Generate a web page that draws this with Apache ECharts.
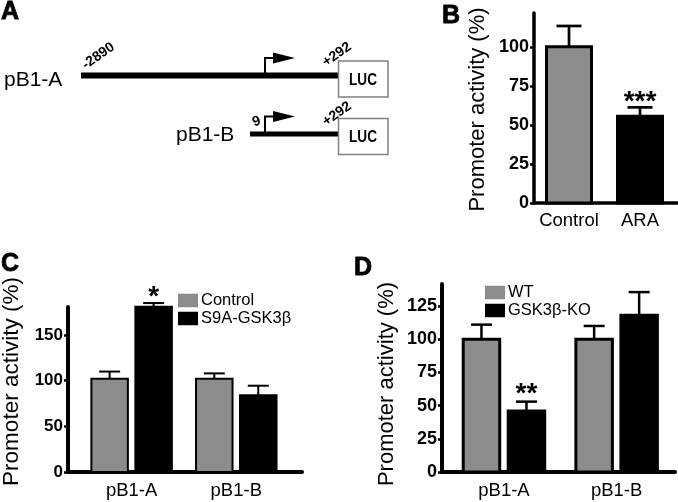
<!DOCTYPE html>
<html>
<head>
<meta charset="utf-8">
<script src="https://cdn.jsdelivr.net/npm/echarts@6/dist/echarts.min.js"></script>
<style>
html,body{margin:0;padding:0;background:#fff;}
#chart{width:678px;height:502px;}
</style>
</head>
<body>
<div id="chart"></div>
<script>
// ---------- DATA ----------
// Panel B
const panelBCategories = ['Control', 'ARA'];
const panelBValues = [100, 55.5];
const panelBErrors = [13.3, 5.7];
const panelBSignificance = ['', '***'];
const panelBTicks = [0, 25, 50, 75, 100];

// Panel C
const panelCCategories = ['pB1-A', 'pB1-B'];
const panelCSeriesNames = ['Control', 'S9A-GSK3β'];
const panelCControl = [102, 102];
const panelCControlErr = [8, 6];
const panelCS9A = [181, 84];
const panelCS9AErr = [4, 10.5];
const panelCSignificance = ['*', ''];
const panelCTicks = [0, 50, 100, 150];

// Panel D
const panelDCategories = ['pB1-A', 'pB1-B'];
const panelDSeriesNames = ['WT', 'GSK3β-KO'];
const panelDWT = [100, 100];
const panelDWTErr = [11, 10];
const panelDKO = [46, 118];
const panelDKOErr = [7, 17.5];
const panelDSignificance = ['**', ''];
const panelDTicks = [0, 25, 50, 75, 100, 125];

// Panel A (schematic) labels
const constructNames = ['pB1-A', 'pB1-B'];
const constructStarts = ['-2890', '9'];
const constructEnd = '+292';
const reporterName = 'LUC';
const yTitle = 'Promoter activity (%)';

// ---------- STYLE ----------
const GRAY = '#8c8c8c';
const BLACK = '#000000';
const FONT = '"Liberation Sans", Arial, Helvetica, sans-serif';
const panelBFills = [GRAY, BLACK];

function toRows(vals, errs) { return vals.map((v, i) => [i, v, errs[i]]); }

function barRenderer(o) {
  return function (params, api) {
    const i = api.value(0), v = api.value(1), e = api.value(2);
    const base = api.coord([i, 0]);
    const top = api.coord([i, v]);
    const et = api.coord([i, v + e]);
    const cx = base[0] + o.offset;
    const w = o.width - o.lineWidth;
    const fill = o.fills ? o.fills[params.dataIndex] : o.fill;
    const children = [
      { type: 'line', shape: { x1: cx, y1: top[1], x2: cx, y2: et[1] },
        style: { stroke: BLACK, lineWidth: o.errWidth } },
      { type: 'line', shape: { x1: cx - o.cap / 2, y1: et[1], x2: cx + o.cap / 2, y2: et[1] },
        style: { stroke: BLACK, lineWidth: o.errWidth } },
      { type: 'rect', shape: { x: cx - w / 2, y: top[1], width: w, height: base[1] - top[1] },
        style: { fill: fill, stroke: BLACK, lineWidth: o.lineWidth } }
    ];
    const s = o.sig ? o.sig[params.dataIndex] : '';
    if (s) {
      children.push({ type: 'text', x: cx, y: et[1] - o.starGap,
        style: { text: s, font: 'bold ' + o.starSize + 'px ' + FONT, fill: BLACK,
          textAlign: 'center', textVerticalAlign: 'middle' } });
    }
    return { type: 'group', children };
  };
}

function xAxisFor(gridIndex, cats, min, max, lw, fs, margin) {
  return {
    type: 'value', gridIndex, min, max,
    axisLine: { show: true, onZero: false, lineStyle: { color: BLACK, width: lw } },
    axisTick: { show: false },
    splitLine: { show: false },
    axisLabel: { customValues: cats.map((c, i) => i), formatter: v => cats[Math.round(v)],
      color: BLACK, fontSize: fs, fontFamily: FONT, margin }
  };
}
function yAxisFor(gridIndex, ticks, max, lw, fs) {
  return {
    type: 'value', gridIndex, min: 0, max,
    axisLine: { show: true, onZero: false, lineStyle: { color: BLACK, width: lw } },
    axisTick: { show: true, customValues: ticks, length: 4, lineStyle: { color: BLACK, width: 2.5 } },
    splitLine: { show: false },
    axisLabel: { customValues: ticks, color: BLACK, fontSize: fs, fontWeight: 'bold', fontFamily: FONT, margin: 5 }
  };
}

const letterStyle = { font: 'bold 25px ' + FONT, fill: BLACK, stroke: BLACK, lineWidth: 0.8, textVerticalAlign: 'bottom' };
const posStyle = { font: 'bold 14px ' + FONT, fill: BLACK, textAlign: 'center', textVerticalAlign: 'middle' };
const titleStyle = { fill: BLACK, textAlign: 'center', textVerticalAlign: 'middle' };
const ROT = 35 * Math.PI / 180;

function rotLabel(cx, cy, text, rot) {
  return { type: 'group', x: cx, y: cy, rotation: rot,
    children: [{ type: 'text', x: 0, y: 0, style: Object.assign({ text }, posStyle) }] };
}

const schematic = [
  // panel letters
  { type: 'text', x: 1, y: 25, style: Object.assign({ text: 'A' }, letterStyle) },
  { type: 'text', x: 442, y: 29, style: Object.assign({ text: 'B' }, letterStyle) },
  { type: 'text', x: 1, y: 277, style: Object.assign({ text: 'C' }, letterStyle) },
  { type: 'text', x: 354, y: 281, style: Object.assign({ text: 'D' }, letterStyle) },
  // construct names
  { type: 'text', x: 4, y: 91, style: { text: constructNames[0], font: '21px ' + FONT, fill: BLACK, textVerticalAlign: 'bottom' } },
  { type: 'text', x: 176, y: 146, style: { text: constructNames[1], font: '21px ' + FONT, fill: BLACK, textVerticalAlign: 'bottom' } },
  // DNA lines
  { type: 'rect', shape: { x: 81, y: 72.5, width: 257, height: 6 }, style: { fill: BLACK } },
  { type: 'rect', shape: { x: 250, y: 131.5, width: 88, height: 5 }, style: { fill: BLACK } },
  // LUC boxes
  { type: 'rect', shape: { x: 338.5, y: 61, width: 49.5, height: 36 }, style: { fill: '#fff', stroke: '#808080', lineWidth: 1.5 } },
  { type: 'rect', shape: { x: 338.5, y: 118.5, width: 49.5, height: 36 }, style: { fill: '#fff', stroke: '#808080', lineWidth: 1.5 } },
  { type: 'group', x: 363, y: 80, scaleX: 0.8, children: [{ type: 'text', style: { text: reporterName, font: 'bold 17px ' + FONT, fill: BLACK, textAlign: 'center', textVerticalAlign: 'middle' } }] },
  { type: 'group', x: 363, y: 137.5, scaleX: 0.8, children: [{ type: 'text', style: { text: reporterName, font: 'bold 17px ' + FONT, fill: BLACK, textAlign: 'center', textVerticalAlign: 'middle' } }] },
  // promoter arrows
  { type: 'polyline', shape: { points: [[265, 73], [265, 58], [276, 58]] }, style: { stroke: BLACK, lineWidth: 2, fill: null } },
  { type: 'polygon', shape: { points: [[273, 52.5], [295, 58], [273, 63.5]] }, style: { fill: BLACK } },
  { type: 'polyline', shape: { points: [[265, 132], [265, 116.5], [276, 116.5]] }, style: { stroke: BLACK, lineWidth: 2, fill: null } },
  { type: 'polygon', shape: { points: [[273, 111], [295, 116.5], [273, 122]] }, style: { fill: BLACK } },
  // rotated position labels
  rotLabel(98.5, 56, constructStarts[0], ROT),
  rotLabel(256.5, 121.5, constructStarts[1], 20 * Math.PI / 180),
  rotLabel(337, 54.5, constructEnd, ROT),
  rotLabel(337, 114, constructEnd, ROT),
  // y-axis titles
  { type: 'text', x: 478, y: 109.5, rotation: Math.PI / 2, style: Object.assign({ text: yTitle, font: '22px ' + FONT }, titleStyle) },
  { type: 'text', x: 11.5, y: 381.5, rotation: Math.PI / 2, style: Object.assign({ text: yTitle, font: '22.5px ' + FONT }, titleStyle) },
  { type: 'text', x: 387, y: 384, rotation: Math.PI / 2, style: Object.assign({ text: yTitle, font: '22px ' + FONT }, titleStyle) }
];

const legendBase = {
  orient: 'vertical', itemWidth: 20, itemHeight: 13.5, itemGap: 1, padding: 0,
  icon: 'rect', selectedMode: false,
  textStyle: { color: BLACK, fontSize: 16.5, fontFamily: FONT, padding: [0, 0, 0, -2] }
};

const option = {
  animation: false,
  backgroundColor: '#fff',
  grid: [
    { left: 534, top: 13, width: 143, height: 190 },
    { left: 68, top: 307, width: 234, height: 165 },
    { left: 442, top: 284, width: 233, height: 188 }
  ],
  xAxis: [
    xAxisFor(0, panelBCategories, -0.493, 1.521, 3.5, 18.5, 8),
    xAxisFor(1, panelCCategories, -0.608, 1.628, 4, 18.5, 9),
    xAxisFor(2, panelDCategories, -0.55, 1.518, 4, 18.5, 9)
  ],
  yAxis: [
    yAxisFor(0, panelBTicks, 121.6, 3.5, 18),
    yAxisFor(1, panelCTicks, 180.7, 4, 17),
    yAxisFor(2, panelDTicks, 141.6, 4, 18)
  ],
  legend: [
    Object.assign({}, legendBase, { left: 178, top: 292,
      data: panelCSeriesNames.map((n, k) => ({ name: n, itemStyle: { color: k ? BLACK : GRAY, borderWidth: 0 } })) }),
    Object.assign({}, legendBase, { left: 485, top: 284,
      data: panelDSeriesNames.map((n, k) => ({ name: n, itemStyle: { color: k ? BLACK : GRAY, borderWidth: 0 } })) })
  ],
  graphic: schematic,
  series: [
    { type: 'custom', name: 'Panel B', xAxisIndex: 0, yAxisIndex: 0, clip: false,
      itemStyle: { color: GRAY },
      renderItem: barRenderer({ offset: 0, width: 48, lineWidth: 3, errWidth: 2.7, cap: 25, fills: panelBFills,
        sig: panelBSignificance, starGap: 5, starSize: 28 }),
      data: toRows(panelBValues, panelBErrors) },
    { type: 'custom', name: panelCSeriesNames[0], xAxisIndex: 1, yAxisIndex: 1, clip: false,
      itemStyle: { color: GRAY },
      renderItem: barRenderer({ offset: -22, width: 38.5, lineWidth: 2, errWidth: 2, cap: 21, fill: GRAY }),
      data: toRows(panelCControl, panelCControlErr) },
    { type: 'custom', name: panelCSeriesNames[1], xAxisIndex: 1, yAxisIndex: 1, clip: false,
      itemStyle: { color: BLACK },
      renderItem: barRenderer({ offset: 22, width: 38.5, lineWidth: 2, errWidth: 2, cap: 21, fill: BLACK,
        sig: panelCSignificance, starGap: 6, starSize: 28 }),
      data: toRows(panelCS9A, panelCS9AErr) },
    { type: 'custom', name: panelDSeriesNames[0], xAxisIndex: 2, yAxisIndex: 2, clip: false,
      itemStyle: { color: GRAY },
      renderItem: barRenderer({ offset: -22.5, width: 39.5, lineWidth: 3, errWidth: 2.5, cap: 21, fill: GRAY }),
      data: toRows(panelDWT, panelDWTErr) },
    { type: 'custom', name: panelDSeriesNames[1], xAxisIndex: 2, yAxisIndex: 2, clip: false,
      itemStyle: { color: BLACK },
      renderItem: barRenderer({ offset: 22.5, width: 39.5, lineWidth: 3, errWidth: 2.5, cap: 21, fill: BLACK,
        sig: panelDSignificance, starGap: 7, starSize: 28 }),
      data: toRows(panelDKO, panelDKOErr) }
  ]
};

const chart = echarts.init(document.getElementById('chart'), null, { renderer: 'canvas' });
chart.setOption(option);
</script>
</body>
</html>
